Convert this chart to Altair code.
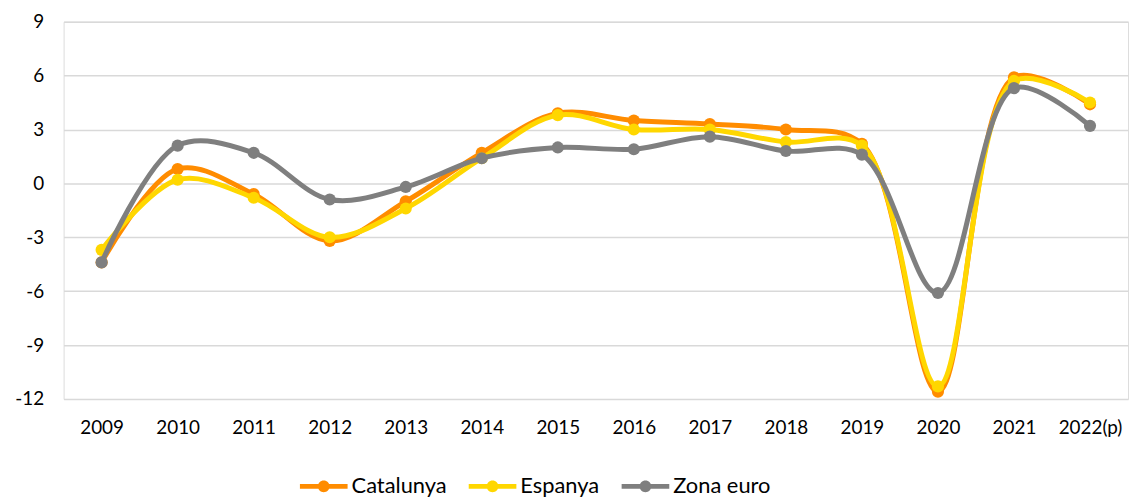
import altair as alt
import pandas as pd

years = ["2009", "2010", "2011", "2012", "2013", "2014", "2015", "2016",
         "2017", "2018", "2019", "2020", "2021", "2022(p)"]
catalunya = [-4.4, 0.8, -0.6, -3.2, -1.0, 1.7, 3.9, 3.5, 3.3, 3.0, 2.2, -11.6, 5.9, 4.4]
espanya = [-3.7, 0.2, -0.8, -3.0, -1.4, 1.4, 3.8, 3.0, 3.0, 2.3, 2.1, -11.3, 5.7, 4.5]
zona_euro = [-4.4, 2.1, 1.7, -0.9, -0.2, 1.4, 2.0, 1.9, 2.6, 1.8, 1.6, -6.1, 5.3, 3.2]

series = ["Catalunya", "Espanya", "Zona euro"]
colors = ["#FF8C00", "#FFD700", "#7F7F7F"]

rows = []
for name, vals in zip(series, [catalunya, espanya, zona_euro]):
    for y, v in zip(years, vals):
        rows.append({"year": y, "value": v, "series": name})
df = pd.DataFrame(rows)

FONT = "Lato"

x = alt.X("year:N", sort=years, title=None,
          scale=alt.Scale(paddingInner=0, paddingOuter=0.5),
          axis=alt.Axis(labelAngle=0, labelFontSize=19, labelColor="#000000",
                        labelFont=FONT, labelPadding=20, domain=False, ticks=False,
                        grid=False))
y = alt.Y("value:Q", title=None,
          scale=alt.Scale(domain=[-12, 9], nice=False, zero=False),
          axis=alt.Axis(values=[-12, -9, -6, -3, 0, 3, 6, 9], labelFontSize=19,
                        labelColor="#000000", labelFont=FONT, labelPadding=20,
                        labelExpr="'' + datum.value",
                        domain=False, ticks=False, grid=True, gridColor="#D9D9D9",
                        gridWidth=1.5))

legend_shape = ("M-1,-0.1 L1,-0.1 L1,0.1 L-1,0.1 Z "
                "M-0.25,0 A0.25,0.25 0 1,1 0.25,0 A0.25,0.25 0 1,1 -0.25,0 Z")

color = alt.Color("series:N", sort=series,
                  scale=alt.Scale(domain=series, range=colors),
                  legend=alt.Legend(title=None, orient="none", direction="horizontal",
                                    legendX=238, legendY=444,
                                    symbolType=legend_shape, symbolSize=2304,
                                    symbolStrokeWidth=0, symbolOpacity=1,
                                    labelFontSize=22, labelFont=FONT,
                                    labelColor="#000000", labelOffset=4,
                                    columnPadding=22))

layers = []
for name in series:
    base = alt.Chart(df).transform_filter(alt.datum.series == name)
    line = base.mark_line(interpolate="catmull-rom", strokeWidth=5, strokeCap="round").encode(
        x=x, y=y, color=color)
    pts = base.mark_point(filled=True, size=150, opacity=1).encode(
        x=x, y=y, color=color)
    layers += [line, pts]

chart = alt.layer(*layers).properties(
    width=1072, height=380,
    autosize=alt.AutoSizeParams(type="none"),
    padding={"left": 56, "top": 12, "right": 2, "bottom": 100},
).configure_view(stroke=None).configure(font=FONT)

chart.save("out.html", embed_options={"renderer": "svg", "actions": False})
